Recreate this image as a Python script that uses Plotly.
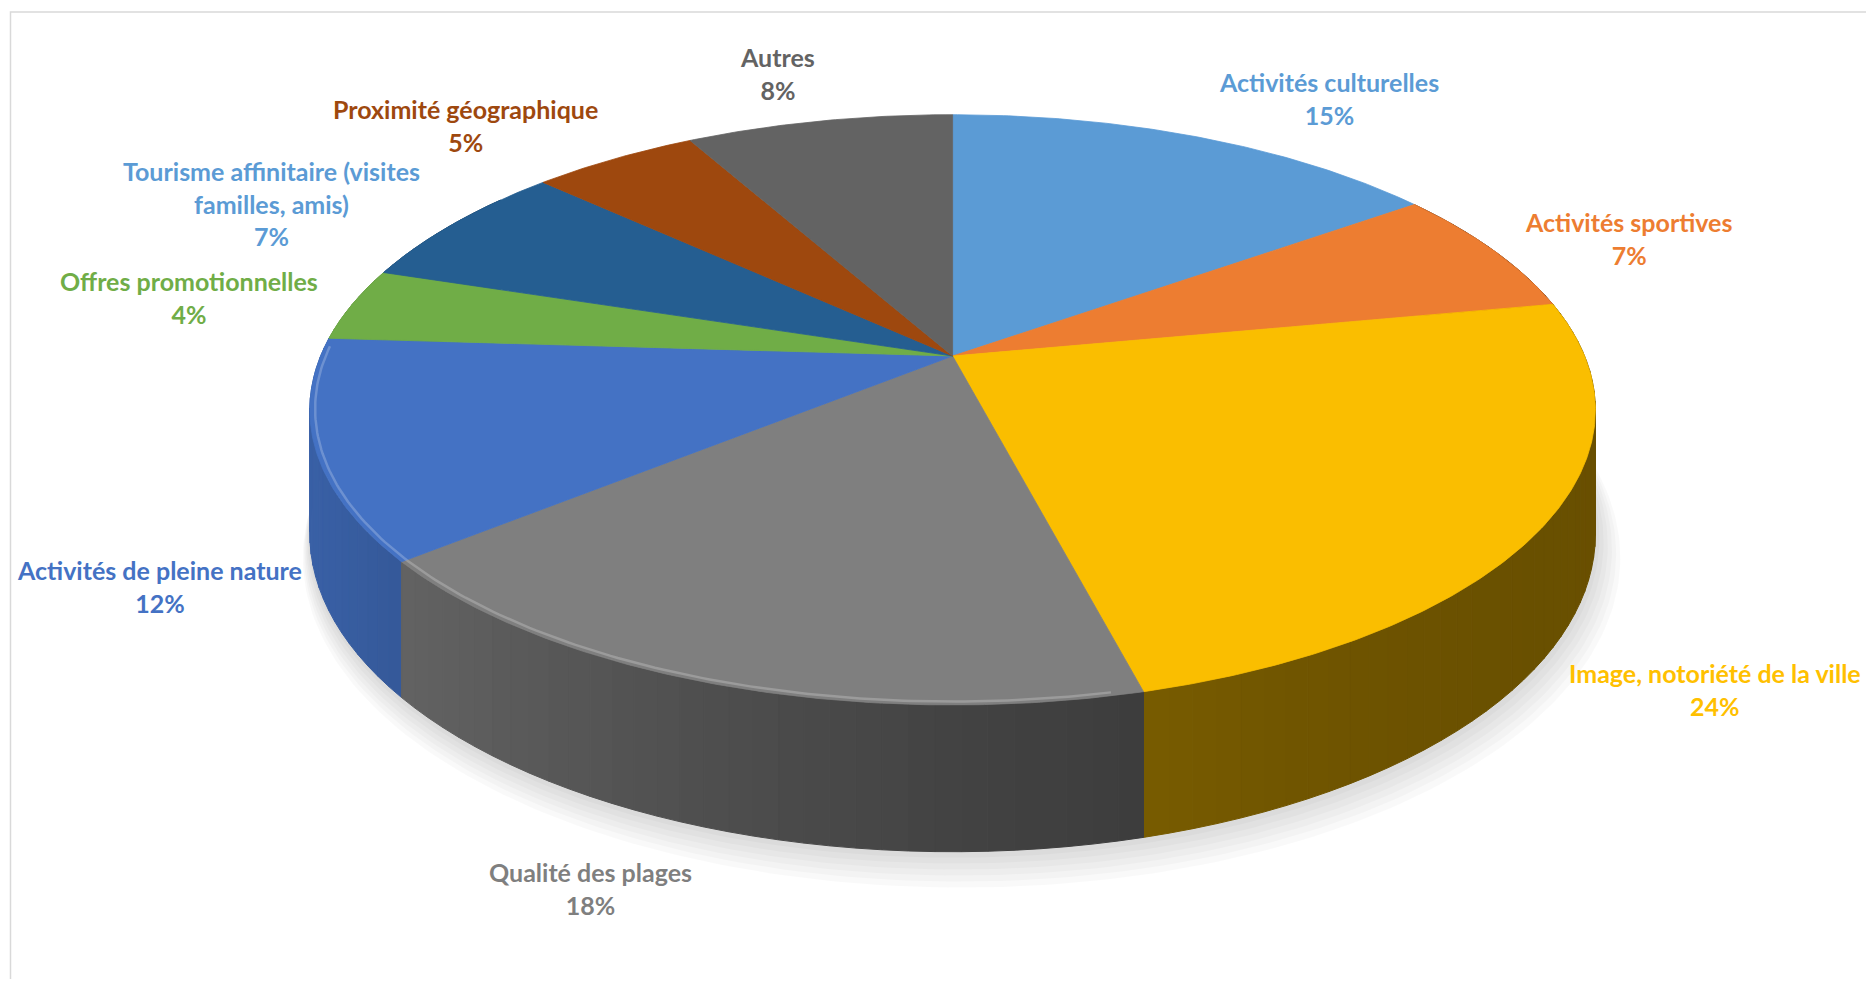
import math
import textwrap
import numpy as np
import plotly.graph_objects as go

# ---------------- data ----------------
categories = [
    "Activités culturelles",
    "Activités sportives",
    "Image, notoriété de la ville",
    "Qualité des plages",
    "Activités de pleine nature",
    "Offres promotionnelles",
    "Tourisme affinitaire (visites familles, amis)",
    "Proximité géographique",
    "Autres",
]
values = [15, 7, 24, 18, 12, 4, 7, 5, 8]

# ---------------- styles ----------------
slice_colors = ["#5B9BD5", "#ED7D31", "#FABE00", "#7F7F7F", "#4472C4",
                "#70AD47", "#255E91", "#9E480E", "#636363"]
label_colors = ["#5B9BD5", "#ED7D31", "#FFC000", "#7F7F7F", "#4472C4",
                "#70AD47", "#5B9BD5", "#9E480E", "#636363"]
# label centres (page pixels)
label_x = [1329, 1628, 1715, 590, 159, 189, 271, 465, 777]
label_y = [98, 238, 689, 888, 586, 297, 203, 125, 73]

W, H_FIG = 1858, 971
OFF = 8  # body margin of the html page

# 3D pie projection parameters (page pixels)
CX, CY = 952.6, 356.0
A, B, P, DEPTH = 632.0, 285.3, 0.1824, 120.0


def proj(theta_deg, r=1.0, z=0.0, dx=0.0, dy=0.0):
    t = np.radians(theta_deg)
    u = r * np.sin(t)
    v = r * np.cos(t)
    d = 1 + P * v
    x = CX + A * u / d + dx
    y = CY + (-B * v + DEPTH * z) / d + dy
    return x, y


def scale(hexc, f):
    hexc = hexc.lstrip("#")
    r, g, b = (int(hexc[i:i + 2], 16) for i in (0, 2, 4))
    return "rgb({},{},{})".format(int(r * f), int(g * f), int(b * f))


def side_factor(theta):
    c = (math.cos(math.radians(theta - 260)) + 1) / 2
    return 0.42 + 0.43 * c ** 2.5


total = float(sum(values))
bounds = np.concatenate([[0], np.cumsum(values)]) / total * 360.0

fig = go.Figure()

# soft shadow beneath the pie
full = np.linspace(0, 360, 361)
for k in range(6, 0, -1):
    sx, sy = proj(full, r=1.0 + 0.004 * k, z=1.0 + 0.028 * k, dx=1.5 * k)
    fig.add_trace(go.Scatter(x=sx, y=sy, mode="lines", fill="toself",
                             fillcolor="rgba(0,0,0,0.025)", line=dict(width=0),
                             hoverinfo="skip", showlegend=False))

# side wall pieces (painter's order: back to front)
quads = []
for i in range(len(values)):
    s, e = bounds[i], bounds[i + 1]
    n = max(1, int(math.ceil((e - s) / 2.0)))
    ts = np.linspace(s, e, n + 1)
    for t0, t1 in zip(ts[:-1], ts[1:]):
        tm = 0.5 * (t0 + t1)
        if math.cos(math.radians(tm)) > 0.6:
            continue
        quads.append((math.cos(math.radians(tm)), i, t0, t1, tm))
quads.sort(key=lambda q: -q[0])
for _, i, t0, t1, tm in quads:
    x0t, y0t = proj(t0)
    x1t, y1t = proj(t1)
    x1b, y1b = proj(t1, z=1.0)
    x0b, y0b = proj(t0, z=1.0)
    col = scale(slice_colors[i], side_factor(tm))
    fig.add_trace(go.Scatter(x=[x0t, x1t, x1b, x0b, x0t],
                             y=[y0t, y1t, y1b, y0b, y0t],
                             mode="lines", fill="toself", fillcolor=col,
                             line=dict(color=col, width=1),
                             hoverinfo="skip", showlegend=False))

# top surfaces
for i in range(len(values)):
    s, e = bounds[i], bounds[i + 1]
    ts = np.linspace(s, e, max(2, int((e - s) * 2) + 1))
    ax, ay = proj(ts)
    xs = np.concatenate([[CX], ax, [CX]])
    ys = np.concatenate([[CY], ay, [CY]])
    fig.add_trace(go.Scatter(x=xs, y=ys, mode="lines", fill="toself",
                             fillcolor=slice_colors[i],
                             line=dict(color=slice_colors[i], width=0.8),
                             name=categories[i], hoverinfo="skip",
                             showlegend=False))

# subtle bevel highlight on front rim
ht = np.linspace(168, 272, 160)
hx, hy = proj(ht, r=0.992)
fig.add_trace(go.Scatter(x=hx, y=hy, mode="lines",
                         line=dict(color="rgba(255,255,255,0.22)", width=2.5),
                         hoverinfo="skip", showlegend=False))

# data labels
pct = [round(v / total * 100) for v in values]
for i, cat in enumerate(categories):
    lines = textwrap.wrap(cat, 29)
    txt = "<br>".join("<b>{}</b>".format(l) for l in lines)
    txt += "<br><b>{}%</b>".format(pct[i])
    fig.add_annotation(x=label_x[i], y=label_y[i], text=txt, showarrow=False,
                       xanchor="center", yanchor="middle", align="center",
                       font=dict(family="Lato, 'Open Sans', sans-serif",
                                 size=25, color=label_colors[i]))

# chart area border
fig.add_shape(type="rect", x0=10.5, y0=12, x1=1900, y1=1010,
              line=dict(color="#D9D9D9", width=1.5), layer="below")

fig.update_layout(
    width=W, height=H_FIG,
    margin=dict(l=0, r=0, t=0, b=0),
    paper_bgcolor="white", plot_bgcolor="white",
    xaxis=dict(range=[OFF, OFF + W], visible=False, fixedrange=True),
    yaxis=dict(range=[OFF + H_FIG, OFF], visible=False, fixedrange=True),
    showlegend=False,
)

fig.write_html("out.html")
